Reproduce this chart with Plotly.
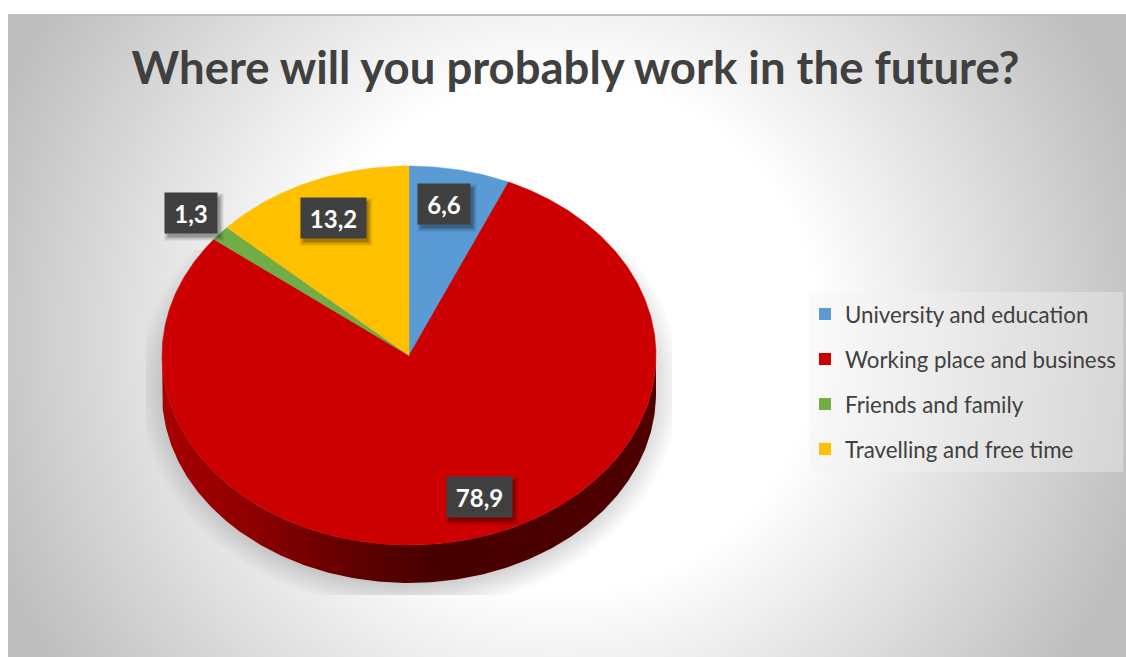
import numpy as np
import plotly.graph_objects as go

# Survey data
categories = ["University and education", "Working place and business",
              "Friends and family", "Travelling and free time"]
values = [6.6, 78.9, 1.3, 13.2]
slice_colors = ["#5B9BD5", "#CC0000", "#70AD47", "#FFC000"]
title_text = "Where will you probably work in the future?"

# Canvas and pie geometry in screen pixels
W, H = 1126, 657
PANEL_LEFT, PANEL_TOP = 8, 14
CX, CY, RX, RY = 409, 355.5, 247, 189.5
DEPTH = 38 / RY

# The axes map the unit circle onto the tilted pie ellipse
x_range = [(0 - CX) / RX, (W - CX) / RX]
y_range = [(CY - H) / RY, CY / RY]


def to_x(px):
    return (np.asarray(px) - CX) / RX


def to_y(py):
    return (CY - np.asarray(py)) / RY


def backdrop():
    """Radial grey panel with the soft shadow under the pie."""
    px = np.arange(PANEL_LEFT, W) + 0.5
    py = np.arange(PANEL_TOP, H) + 0.5
    xx, yy = np.meshgrid(px, py)
    d = np.sqrt(((xx - 560) / 566) ** 2 + ((yy - 335) / 560) ** 2)
    t = np.clip((d - 0.46) / 0.54, 0, 1.15)
    grey = 255 - 57 * t
    s = np.sqrt(((xx - CX) / 272) ** 2 + ((yy - 385) / 226) ** 2)
    fade = np.clip((1 - s) / 0.16, 0, 1)
    inside = (xx > 146) & (xx < 672) & (yy < 595) & (yy > 250)
    grey = grey * (1 - 0.24 * fade * inside)
    grey[:2, :] = 190
    return px, py, grey.astype(np.uint8)


bg_x, bg_y, bg_z = backdrop()

fig = go.Figure()
fig.add_trace(go.Heatmap(
    x=to_x(bg_x), y=to_y(bg_y), z=bg_z, zmin=0, zmax=255,
    colorscale=[[0, "#000000"], [1, "#FFFFFF"]],
    showscale=False, hoverinfo="skip",
))

# Side wall of the disc, visible along the lower half
t = np.linspace(0, np.pi, 240)
wall_x = np.concatenate([np.cos(t), np.cos(t[::-1])])
wall_y = np.concatenate([-np.sin(t), -np.sin(t[::-1]) - DEPTH])
fig.add_trace(go.Scatter(
    x=wall_x, y=wall_y, mode="lines", fill="toself", line=dict(width=0),
    fillgradient=dict(type="horizontal", colorscale=[
        [0, "#A80000"], [0.2, "#8A0000"], [0.4, "#5E0000"],
        [0.55, "#480000"], [1, "#4E0000"]]),
    showlegend=False, hoverinfo="skip",
))

# Slices, clockwise from twelve o'clock
total = sum(values)
start = 0.0
for name, value, color in zip(categories, values, slice_colors):
    end = start + value / total * 2 * np.pi
    a = np.linspace(start, end, max(int(value * 6), 12))
    fig.add_trace(go.Scatter(
        x=np.concatenate([[0], np.sin(a), [0]]),
        y=np.concatenate([[0], np.cos(a), [0]]),
        mode="lines", fill="toself", fillcolor=color,
        line=dict(width=0.5, color=color),
        name=name, showlegend=False, hoverinfo="skip",
    ))
    start = end

# Legend entries with square swatches
for i, (name, color) in enumerate(zip(categories, slice_colors)):
    fig.add_trace(go.Scatter(
        x=[None], y=[None], mode="markers", name=name, legendgroup=str(i),
        marker=dict(symbol="square", size=12, color=color),
    ))

# Translucent plate behind the legend
shapes = [dict(
    type="rect", xref="x", yref="y", layer="above", line_width=0,
    x0=to_x(809), x1=to_x(1123), y0=to_y(292), y1=to_y(472),
    fillcolor="rgba(242,242,242,0.39)",
)]

# Dark value labels with a drop shadow: (centre x, centre y, width) in pixels
label_boxes = [(444, 204, 52), (479, 497, 65), (191, 213, 52), (333, 218, 65)]
BOX_H = 40
annotations = []
for value, (bx, by, bw) in zip(values, label_boxes):
    for grow, alpha in [(4, 0.05), (3, 0.06), (2, 0.08), (1, 0.1), (0, 0.12)]:
        shapes.append(dict(
            type="rect", xref="x", yref="y", layer="above", line_width=0,
            x0=to_x(bx - bw / 2 + 3 - grow), x1=to_x(bx + bw / 2 + 3 + grow),
            y0=to_y(by - BOX_H / 2 + 4 - grow), y1=to_y(by + BOX_H / 2 + 4 + grow),
            fillcolor=f"rgba(0,0,0,{alpha})",
        ))
    annotations.append(dict(
        x=to_x(bx), y=to_y(by), xref="x", yref="y",
        text=f"<b>{str(value).replace('.', ',')}</b>", showarrow=False,
        width=bw, height=BOX_H, bgcolor="#404040", align="center", valign="middle",
        borderpad=0, font=dict(family="Lato", size=24, color="#FFFFFF"),
    ))

fig.update_layout(
    width=W, height=H, margin=dict(l=0, r=0, t=0, b=0),
    paper_bgcolor="#FFFFFF", plot_bgcolor="rgba(0,0,0,0)",
    xaxis=dict(range=x_range, visible=False, fixedrange=True),
    yaxis=dict(range=y_range, visible=False, fixedrange=True),
    title=dict(
        text=f"<b>{title_text}</b>", x=575.5 / W, y=1 - 68 / H,
        xanchor="center", yanchor="middle",
        font=dict(family="Lato", size=45.5, color="#404040"),
    ),
    legend=dict(
        x=805 / W, y=1 - 293 / H, xanchor="left", yanchor="top",
        traceorder="grouped", tracegroupgap=13,
        bgcolor="rgba(0,0,0,0)", borderwidth=0,
        font=dict(family="Lato", size=22.3, color="#404040"),
        itemwidth=30, itemclick=False, itemdoubleclick=False,
    ),
    shapes=shapes, annotations=annotations,
)

fig.write_html("out.html", config=dict(displayModeBar=False))
